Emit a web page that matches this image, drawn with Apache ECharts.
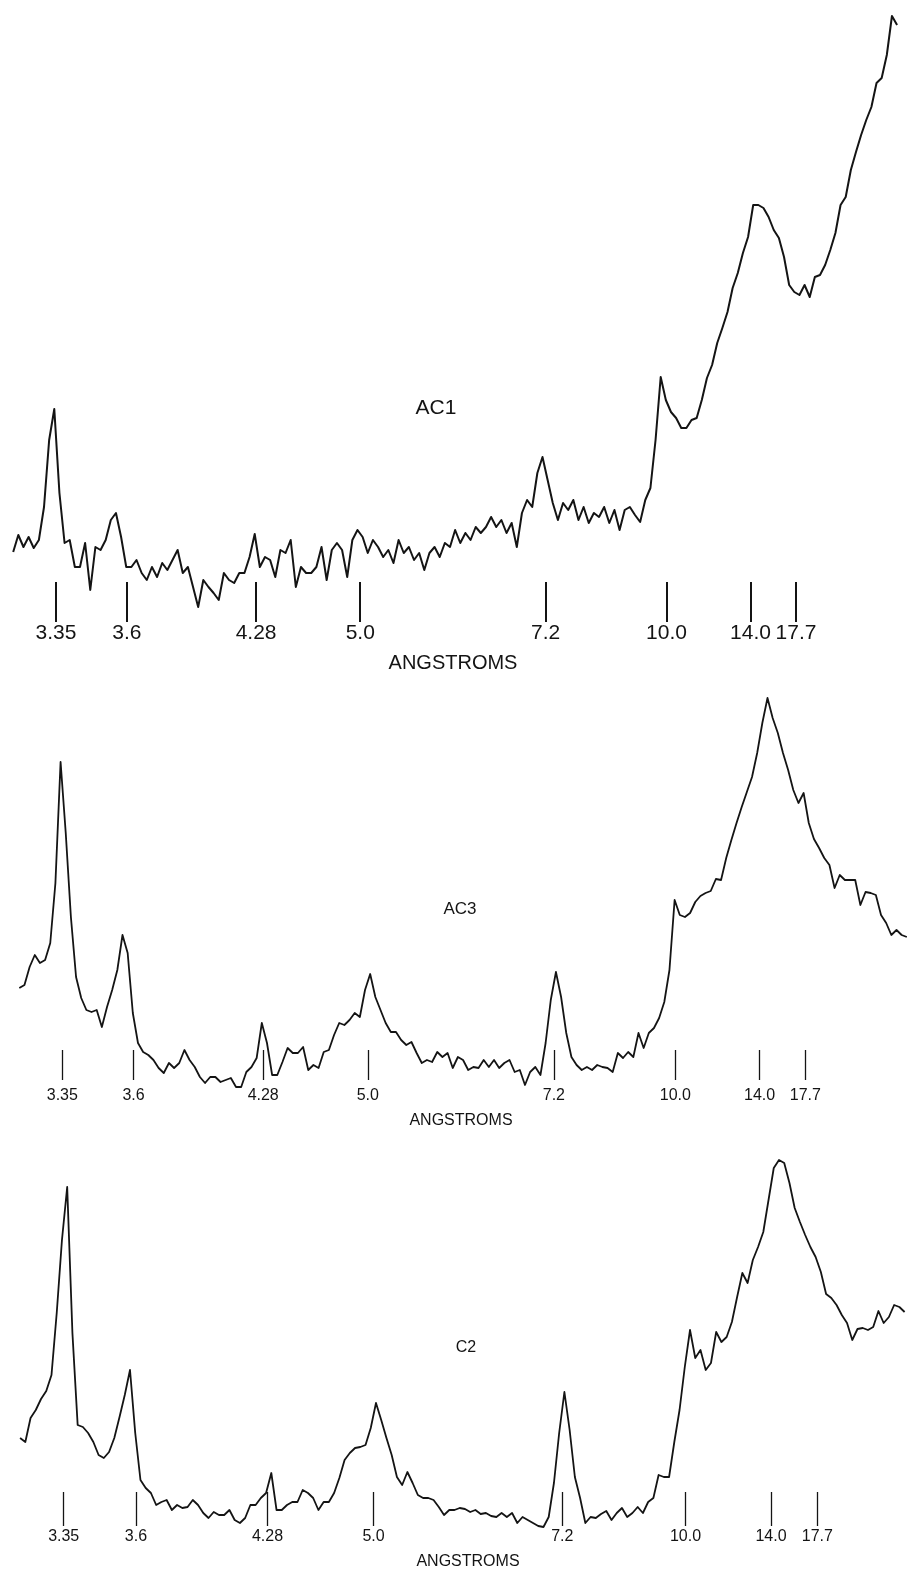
<!DOCTYPE html>
<html>
<head>
<meta charset="utf-8">
<script src="https://cdn.jsdelivr.net/npm/echarts@6/dist/echarts.min.js"></script>
<style>
  html, body { margin: 0; padding: 0; background: #fff; }
  #chart { width: 909px; height: 1572px; }
</style>
</head>
<body>
<div id="chart"></div>
<script>
// Diffractometer scan: 2-theta (degrees) starting at SCAN_START, decreasing by SCAN_STEP per reading.
const SCAN_START = 27.85;
const SCAN_STEP = 0.15;

// d-spacing marks (angstroms) and the 2-theta positions where they are drawn.
const tickSpacings = ['3.35', '3.6', '4.28', '5.0', '7.2', '10.0', '14.0', '17.7'];
const tickTwoTheta = [26.6, 24.53, 20.76, 17.72, 12.31, 8.78, 6.33, 5.0];

// Recorder intensity (arbitrary units) for each sample.
const ac1Counts = [
  70, 87, 75, 85, 74, 82, 115, 182, 213, 129,
  79, 82, 55, 55, 79, 32, 75, 72, 82, 102,
  109, 85, 55, 55, 62, 49, 42, 55, 45, 59,
  52, 62, 72, 49, 55, 35, 15, 42, 35, 29,
  22, 49, 42, 39, 49, 49, 65, 88, 55, 65,
  62, 45, 72, 69, 82, 35, 55, 49, 49, 55,
  75, 42, 72, 79, 72, 45, 82, 92, 85, 69,
  82, 75, 65, 72, 59, 82, 69, 75, 62, 69,
  52, 69, 75, 65, 79, 75, 92, 79, 89, 82,
  95, 89, 95, 105, 95, 102, 89, 99, 75, 109,
  122, 115, 149, 165, 142, 119, 102, 119, 112, 122,
  102, 115, 99, 109, 105, 115, 99, 112, 92, 112,
  115, 107, 100, 122, 134, 182, 245, 222, 210, 204,
  194, 194, 202, 204, 222, 244, 257, 279, 294, 310,
  334, 349, 369, 385, 417, 417, 414, 405, 392, 384,
  365, 337, 330, 327, 337, 325, 345, 347, 357, 372,
  389, 417, 425, 452, 470, 487, 502, 515, 539, 544,
  567, 606, 597
];

const ac3Counts = [
  112, 115, 133, 145, 137, 140, 157, 217, 338, 267,
  183, 123, 102, 90, 88, 90, 73, 93, 110, 130,
  165, 147, 87, 57, 48, 45, 40, 32, 27, 37,
  32, 37, 50, 40, 33, 23, 17, 23, 23, 18,
  20, 22, 13, 13, 28, 33, 42, 77, 57, 25,
  25, 38, 52, 47, 47, 53, 30, 35, 32, 48,
  50, 65, 77, 75, 80, 87, 83, 110, 126, 103,
  90, 77, 68, 68, 60, 55, 58, 47, 37, 40,
  38, 48, 43, 47, 32, 43, 40, 30, 33, 32,
  40, 33, 40, 32, 37, 40, 28, 30, 15, 28,
  33, 25, 57, 100, 128, 103, 67, 43, 35, 30,
  33, 30, 35, 33, 32, 28, 47, 42, 48, 43,
  67, 52, 67, 72, 82, 98, 130, 200, 185, 183,
  187, 198, 204, 207, 209, 221, 220, 242, 260, 277,
  293, 308, 323, 347, 377, 402, 382, 367, 347, 330,
  310, 297, 307, 277, 261, 252, 242, 235, 212, 225,
  220, 220, 220, 195, 208, 207, 205, 185, 177, 165,
  170, 165, 163
];

const c2Counts = [
  102, 98, 122, 130, 141, 149, 165, 227, 300, 353,
  207, 115, 113, 107, 98, 85, 82, 88, 102, 123,
  145, 170, 107, 60, 52, 47, 35, 38, 40, 30,
  35, 32, 33, 40, 35, 27, 22, 28, 25, 25,
  30, 20, 17, 22, 35, 35, 42, 47, 67, 30,
  30, 35, 38, 38, 50, 47, 42, 30, 38, 38,
  47, 62, 80, 87, 92, 93, 95, 112, 137, 120,
  102, 85, 63, 55, 68, 57, 45, 42, 42, 40,
  33, 25, 30, 30, 32, 31, 28, 30, 26, 27,
  24, 23, 27, 23, 27, 17, 23, 20, 17, 14,
  13, 23, 57, 107, 148, 110, 63, 42, 17, 23,
  22, 26, 29, 20, 27, 32, 23, 27, 33, 27,
  38, 42, 65, 63, 63, 98, 130, 173, 210, 182,
  190, 170, 177, 208, 198, 203, 218, 243, 267, 257,
  280, 293, 308, 340, 372, 380, 377, 357, 332, 318,
  305, 293, 283, 268, 246, 242, 235, 225, 217, 200,
  211, 212, 210, 213, 229, 217, 223, 235, 233, 228
];

const sampleNames = ['AC1', 'AC3', 'C2'];
const sampleCounts = [ac1Counts, ac3Counts, c2Counts];

// Page layout of the three stacked traces.
const layout = [
  { left: 8.04, width: 890.76, top: 10, height: 612, yMax: 612, axisOffset: 0,
    lineWidth: 2, tickLen: 40, tickWidth: 2, labelSize: 21, labelMargin: 1,
    title: { x: 436, y: 408, size: 21 }, unit: { x: 453, y: 663, size: 20 } },
  { left: 14.14, width: 894.4, top: 680, height: 420, yMax: 420, axisOffset: -20,
    lineWidth: 1.8, tickLen: 30, tickWidth: 1.3, labelSize: 16, labelMargin: 8,
    title: { x: 460, y: 909, size: 17 }, unit: { x: 461, y: 1121, size: 16 } },
  { left: 14.85, width: 907.2, top: 1140, height: 400, yMax: 400, axisOffset: -14,
    lineWidth: 1.8, tickLen: 34, tickWidth: 1.3, labelSize: 16, labelMargin: 3,
    title: { x: 466, y: 1348, size: 16 }, unit: { x: 468, y: 1562, size: 16 } }
];

const INK = '#141414';
const FONT = '"Liberation Sans", "DejaVu Sans", sans-serif';

function spacingLabel(v) {
  let best = 0;
  for (let i = 1; i < tickTwoTheta.length; i++) {
    if (Math.abs(tickTwoTheta[i] - v) < Math.abs(tickTwoTheta[best] - v)) best = i;
  }
  return tickSpacings[best];
}

function scanPoints(counts) {
  return counts.map((c, i) => [+(SCAN_START - i * SCAN_STEP).toFixed(2), c]);
}

const grid = [], xAxis = [], yAxis = [], series = [], graphic = [];

layout.forEach((p, i) => {
  grid.push({ left: p.left, width: p.width, top: p.top, height: p.height,
              containLabel: false, outerBoundsMode: 'none' });
  xAxis.push({
    type: 'value', gridIndex: i, min: 2, max: 28, inverse: true,
    offset: p.axisOffset,
    axisLine: { show: false },
    splitLine: { show: false },
    axisTick: { show: true, inside: true, length: p.tickLen, customValues: tickTwoTheta,
                lineStyle: { color: INK, width: p.tickWidth } },
    axisLabel: { show: true, customValues: tickTwoTheta, margin: p.labelMargin,
                 formatter: spacingLabel, color: INK, fontSize: p.labelSize, fontFamily: FONT }
  });
  yAxis.push({ type: 'value', gridIndex: i, min: 0, max: p.yMax, show: false });
  series.push({
    name: sampleNames[i], type: 'line', xAxisIndex: i, yAxisIndex: i,
    data: scanPoints(sampleCounts[i]),
    showSymbol: false, symbol: 'none', clip: false,
    lineStyle: { color: INK, width: p.lineWidth, join: 'round' },
    emphasis: { disabled: true }
  });
  graphic.push({
    type: 'text', x: p.title.x, y: p.title.y,
    style: { text: sampleNames[i], fill: INK, fontSize: p.title.size, fontFamily: FONT,
             align: 'center', verticalAlign: 'middle' }
  });
  graphic.push({
    type: 'text', x: p.unit.x, y: p.unit.y,
    style: { text: 'ANGSTROMS', fill: INK, fontSize: p.unit.size, fontFamily: FONT,
             align: 'center', verticalAlign: 'middle' }
  });
});

const chart = echarts.init(document.getElementById('chart'), null, { renderer: 'canvas' });
chart.setOption({
  backgroundColor: '#ffffff',
  animation: false,
  grid, xAxis, yAxis, series, graphic
});
</script>
</body>
</html>
